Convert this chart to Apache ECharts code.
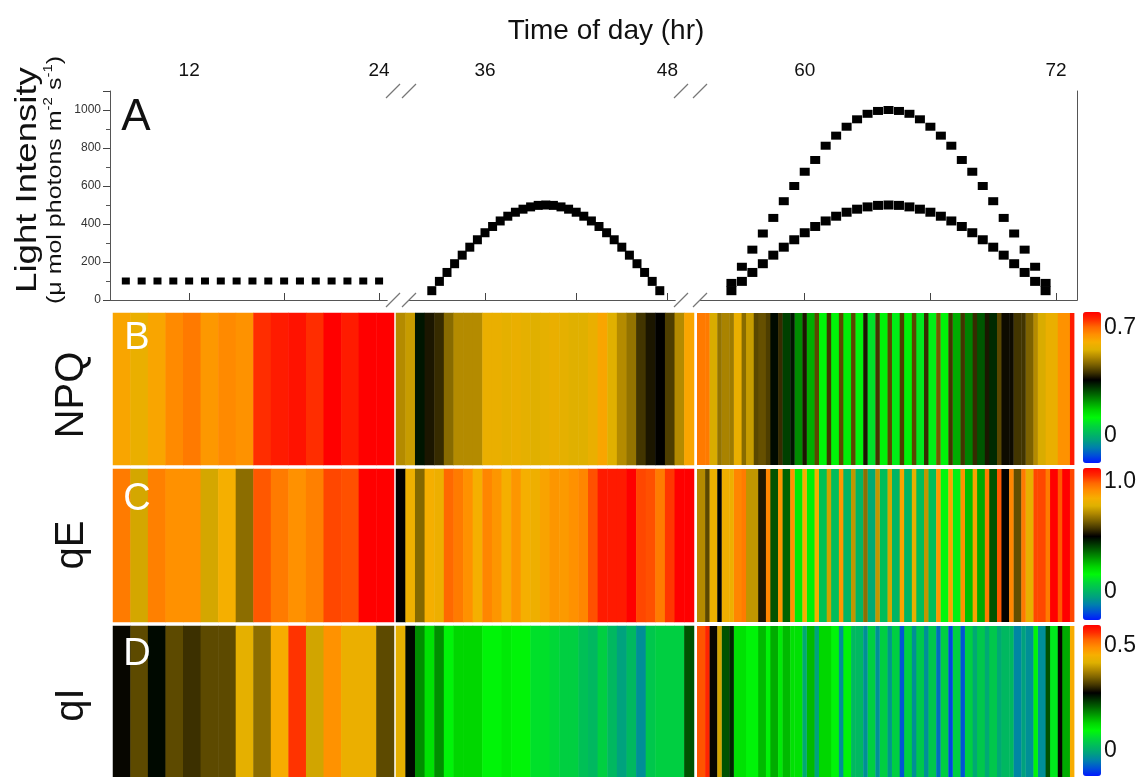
<!DOCTYPE html>
<html>
<head>
<meta charset="utf-8">
<script src="https://cdn.jsdelivr.net/npm/echarts@6/dist/echarts.min.js"></script>
<style>
  html, body { margin: 0; padding: 0; background: #fff; }
  #chart { width: 1148px; height: 777px; }
</style>
</head>
<body>
<div id="chart"></div>
<script>
// ---- Panel A: light intensity (µmol photons m-2 s-1) against time of day (hr) ----
const hoursDay1 = [8, 9, 10, 11, 12, 13, 14, 15, 16, 17, 18, 19, 20, 21, 22, 23, 24];
const lightDay1 = [100, 100, 100, 100, 100, 100, 100, 100, 100, 100, 100, 100, 100, 100, 100, 100, 100];

const hoursDay2 = [32.5, 33, 33.5, 34, 34.5, 35, 35.5, 36, 36.5, 37, 37.5, 38, 38.5, 39, 39.5, 40,
                   40.5, 41, 41.5, 42, 42.5, 43, 43.5, 44, 44.5, 45, 45.5, 46, 46.5, 47, 47.5];
const lightDay2 = [49, 98, 145, 191, 236, 278, 317, 354, 387, 416, 441, 462, 478, 490, 498, 500,
                   498, 490, 478, 462, 441, 416, 387, 354, 317, 278, 236, 191, 145, 98, 49];

const hoursDay3 = [56.5, 57, 57.5, 58, 58.5, 59, 59.5, 60, 60.5, 61, 61.5, 62, 62.5, 63, 63.5, 64,
                   64.5, 65, 65.5, 66, 66.5, 67, 67.5, 68, 68.5, 69, 69.5, 70, 70.5, 71, 71.5];
const lightDay3Low = [49, 98, 145, 191, 236, 278, 317, 354, 387, 416, 441, 462, 478, 490, 498, 500,
                      498, 490, 478, 462, 441, 416, 387, 354, 317, 278, 236, 191, 145, 98, 49];
const lightDay3High = [90, 175, 265, 350, 432, 520, 600, 675, 737, 812, 865, 912, 951, 980, 995, 1000,
                       995, 980, 951, 912, 865, 812, 737, 675, 600, 520, 432, 350, 265, 175, 90];

// Top axis ticks and labels for each day segment
const hourTicks = [[12, 18, 24], [36, 42, 48], [60, 66, 72]];
const hourLabels = [[12, 24], [36, 48], [60, 72]];
const hourRanges = [[7, 24.5], [31, 48.5], [55, 73]];

// ---- Panels B-D: fluorescence parameters, one value per measurement ----
// NPQ
const npqDay1 = [0.62, 0.58, 0.62, 0.66, 0.68, 0.64, 0.66, 0.65, 0.75, 0.77, 0.78, 0.75, 0.80, 0.77, 0.80, 0.80];
const npqDay2 = [0.51, 0.53, 0.34, 0.38, 0.40, 0.47, 0.51, 0.51, 0.51, 0.58, 0.58, 0.57, 0.58, 0.57, 0.56, 0.57,
                 0.58, 0.57, 0.56, 0.56, 0.58, 0.62, 0.56, 0.51, 0.48, 0.41, 0.38, 0.36, 0.42, 0.51, 0.62];
const npqDay3Low = [0.68, 0.55, 0.50, 0.58, 0.53, 0.44, 0.35, 0.30, 0.23, 0.20, 0.12, 0.12, 0.13, 0.11, 0.08, 0.12,
                    0.10, 0.12, 0.09, 0.10, 0.12, 0.20, 0.24, 0.28, 0.32, 0.37, 0.41, 0.46, 0.55, 0.58, 0.65];
const npqDay3High = [0.68, 0.48, 0.49, 0.47, 0.43, 0.42, 0.40, 0.34, 0.38, 0.43, 0.41, 0.43, 0.43, 0.38, 0.41, 0.43,
                     0.42, 0.43, 0.40, 0.45, 0.41, 0.41, 0.40, 0.38, 0.43, 0.37, 0.41, 0.51, 0.58, 0.65, 0.77];
// qE
const qeDay1 = [0.95, 0.76, 0.94, 0.91, 0.91, 0.76, 0.84, 0.66, 1.00, 0.95, 0.91, 0.94, 1.02, 1.01, 1.12, 1.12];
const qeDay2 = [0.50, 0.82, 0.65, 0.84, 0.82, 0.98, 0.95, 0.91, 0.84, 0.93, 0.90, 0.84, 0.90, 0.84, 0.82, 0.87,
                0.90, 0.89, 0.91, 0.93, 1.01, 1.08, 1.08, 1.08, 1.12, 1.02, 1.01, 0.95, 1.04, 1.12, 1.12];
const qeDay3Low = [0.71, 0.82, 0.82, 0.93, 0.73, 0.53, 0.39, 0.37, 0.18, 0.17, 0.03, 0.02, 0.00, 0.00, -0.03, 0.02,
                   0.00, 0.00, 0.02, 0.02, 0.15, 0.14, 0.25, 0.28, 0.39, 0.50, 0.61, 0.80, 1.02, 1.12, 1.12];
const qeDay3High = [0.60, 0.50, 0.82, 0.95, 0.73, 0.93, 0.90, 0.91, 0.84, 0.84, 0.75, 0.90, 0.73, 0.66, 0.73, 0.76,
                    0.87, 0.80, 0.73, 0.90, 0.87, 0.91, 0.87, 0.95, 1.00, 0.93, 0.95, 1.02, 0.95, 1.00, 1.02];
// qI
const qiDay1 = [0.28, 0.33, 0.27, 0.33, 0.31, 0.33, 0.33, 0.43, 0.36, 0.46, 0.56, 0.41, 0.49, 0.44, 0.44, 0.33];
const qiDay2 = [0.43, 0.27, 0.18, 0.12, 0.18, 0.10, 0.13, 0.13, 0.13, 0.10, 0.10, 0.11, 0.10, 0.10, 0.07, 0.07,
                0.06, 0.05, 0.05, 0.03, 0.02, 0.05, 0.02, -0.01, 0.02, -0.03, 0.04, 0.05, 0.05, 0.05, 0.22];
const qiDay3Low = [0.54, 0.28, 0.22, 0.12, 0.10, 0.15, 0.16, 0.15, 0.12, 0.15, 0.13, 0.10, 0.10, 0.02, 0.05, 0.05,
                   0.05, 0.05, 0.04, 0.04, 0.05, 0.05, 0.05, 0.04, 0.04, 0.02, -0.04, -0.03, -0.03, 0.08, 0.16];
const qiDay3High = [0.57, 0.41, 0.25, 0.12, 0.10, 0.10, 0.11, 0.12, 0.00, -0.01, 0.13, -0.03, 0.02, -0.03, -0.03, -0.02,
                    -0.08, -0.03, -0.03, -0.06, -0.09, -0.08, 0.00, 0.00, 0.00, 0.02, -0.01, 0.10, 0.22, 0.28, 0.46];

// Colour scale ranges and labelled values of each colour bar
const npqScale = [-0.18, 0.8], npqLabels = [0, 0.7];
const qeScale = [-0.26, 1.12], qeLabels = [0, 1.0];
const qiScale = [-0.12, 0.6], qiLabels = [0, 0.5];

// blue - teal - green - black - gold - orange - red
const SPECTRUM = ['#0018ff', '#004fd8', '#007eae', '#00a080', '#00bb5c', '#00d737', '#00f809',
                  '#00d500', '#00a000', '#006a00', '#003500', '#000000', '#403300', '#7a6000',
                  '#b08800', '#deb000', '#f6af00', '#ff9000', '#ff6800', '#ff2c00', '#ff0000'];

const FONT = "'Liberation Sans', Arial, sans-serif";

// ---- layout (pixels) ----
const aSegs = [{ left: 110, width: 277 }, { left: 409, width: 266 }, { left: 700, width: 377 }];
const aTop = 91, aHeight = 209;
const hmSegs = [{ left: 113, width: 281 }, { left: 396, width: 298 }, { left: 697, width: 377 }];
const hmRows = [{ top: 313, height: 152 }, { top: 469, height: 153 }, { top: 626, height: 152 }];
const barLeft = 1083, barWidth = 18;
const bars = [{ top: 312, height: 151 }, { top: 468, height: 152 }, { top: 625, height: 151 }];

const grid = [], xAxis = [], yAxis = [], series = [], visualMap = [], graphic = [];

// Panel A segments
const lightSets = [
  [{ h: hoursDay1, v: lightDay1, size: [8, 7] }],
  [{ h: hoursDay2, v: lightDay2, size: [9, 9] }],
  [{ h: hoursDay3, v: lightDay3Low, size: [10, 9] }, { h: hoursDay3, v: lightDay3High, size: [10, 8] }]
];
aSegs.forEach((s, i) => {
  grid.push({ left: s.left, top: aTop, width: s.width, height: aHeight });
  const g = grid.length - 1;
  const topAxis = xAxis.length;
  xAxis.push({
    gridIndex: g, type: 'value', position: 'top', min: hourRanges[i][0], max: hourRanges[i][1],
    axisLine: { show: true, lineStyle: { color: '#555', width: 1 } },
    axisTick: { show: true, customValues: hourTicks[i], length: 7, lineStyle: { color: '#444' } },
    axisLabel: { customValues: hourLabels[i], margin: 11, fontFamily: FONT, fontSize: 19, color: '#111' },
    splitLine: { show: false }
  });
  xAxis.push({
    gridIndex: g, type: 'value', position: 'bottom', min: hourRanges[i][0], max: hourRanges[i][1],
    axisLine: { show: true, lineStyle: { color: '#555', width: 1 } },
    axisTick: { show: false }, axisLabel: { show: false }, splitLine: { show: false }
  });
  const yIdx = yAxis.length;
  yAxis.push({
    gridIndex: g, type: 'value', min: 0, max: 1100, interval: 200,
    position: i === 2 ? 'right' : 'left', show: i !== 1,
    axisLine: { show: true, lineStyle: { color: '#555', width: 1 } },
    axisTick: { show: i === 0, length: 7, lineStyle: { color: '#444' } },
    minorTick: { show: i === 0, splitNumber: 2, length: 4, lineStyle: { color: '#555' } },
    axisLabel: {
      show: i === 0, showMaxLabel: false, margin: 9, fontSize: 12, color: '#333', fontFamily: FONT,
      formatter: v => String(v)
    },
    splitLine: { show: false }
  });
  lightSets[i].forEach(set => {
    series.push({
      type: 'scatter', xAxisIndex: topAxis, yAxisIndex: yIdx, symbol: 'rect', symbolSize: set.size,
      itemStyle: { color: '#000', opacity: 1 }, silent: true,
      data: set.h.map((h, k) => [h, set.v[k]])
    });
  });
});

// Narrow + wide stripes for the alternating measurements of the third day
function stripeRenderer(part) {
  return function (params, api) {
    const k = api.value(0);
    const centre = api.coord([k, 0]);
    const band = api.size([1, 0])[0];
    const cs = params.coordSys;
    const share = 2 / 3;
    const x0 = centre[0] - band / 2;
    const x = part === 'wide' ? x0 : x0 + band * share;
    const w = part === 'wide' ? band * share : band * (1 - share);
    return {
      type: 'rect',
      shape: { x: x, y: cs.y, width: w + 0.4, height: cs.height },
      style: { fill: api.visual('color') }
    };
  };
}

const rows = [
  { scale: npqScale, labels: npqLabels, day1: npqDay1, day2: npqDay2, wide: npqDay3Low, thin: npqDay3High },
  { scale: qeScale, labels: qeLabels, day1: qeDay1, day2: qeDay2, wide: qeDay3Low, thin: qeDay3High },
  { scale: qiScale, labels: qiLabels, day1: qiDay1, day2: qiDay2, wide: qiDay3Low, thin: qiDay3High }
];

rows.forEach((r, ri) => {
  const owned = [];
  [r.day1, r.day2].forEach((vals, si) => {
    grid.push({ left: hmSegs[si].left, width: hmSegs[si].width, top: hmRows[ri].top, height: hmRows[ri].height });
    const g = grid.length - 1;
    xAxis.push({ gridIndex: g, type: 'category', data: vals.map((_, k) => String(k)), show: false });
    yAxis.push({ gridIndex: g, type: 'category', data: [''], show: false });
    series.push({
      type: 'heatmap', xAxisIndex: xAxis.length - 1, yAxisIndex: yAxis.length - 1, silent: true,
      itemStyle: { borderWidth: 0 }, emphasis: { disabled: true },
      data: vals.map((v, k) => [k, 0, v])
    });
    owned.push(series.length - 1);
  });
  grid.push({ left: hmSegs[2].left, width: hmSegs[2].width, top: hmRows[ri].top, height: hmRows[ri].height });
  const g3 = grid.length - 1;
  xAxis.push({ gridIndex: g3, type: 'category', data: r.wide.map((_, k) => String(k)), show: false });
  yAxis.push({ gridIndex: g3, type: 'category', data: [''], show: false });
  ['wide', 'thin'].forEach(part => {
    series.push({
      type: 'custom', xAxisIndex: xAxis.length - 1, yAxisIndex: yAxis.length - 1, silent: true,
      renderItem: stripeRenderer(part), encode: { x: 0, y: 1 },
      data: r[part].map((v, k) => [k, 0, v])
    });
    owned.push(series.length - 1);
  });

  visualMap.push({
    type: 'continuous', min: r.scale[0], max: r.scale[1], dimension: 2, seriesIndex: owned,
    inRange: { color: SPECTRUM }, calculable: false, hoverLink: false, text: null,
    left: barLeft, top: bars[ri].top, itemWidth: barWidth, itemHeight: bars[ri].height, padding: 0
  });

  // value labels beside the colour bar
  grid.push({ left: barLeft, width: barWidth, top: bars[ri].top, height: bars[ri].height });
  const gb = grid.length - 1;
  xAxis.push({ gridIndex: gb, type: 'value', min: 0, max: 1, show: false });
  yAxis.push({
    gridIndex: gb, type: 'value', position: 'right', min: r.scale[0], max: r.scale[1],
    axisLine: { show: false }, axisTick: { show: false }, splitLine: { show: false },
    axisLabel: {
      customValues: r.labels, margin: 3, fontSize: 23, color: '#111', fontFamily: FONT,
      formatter: v => (v === 0 ? '0' : v.toFixed(1))
    }
  });
});

// ---- text ----
const txt = (x, y, text, size, fill, extra) => Object.assign({
  type: 'text', x: x, y: y, z: 100, silent: true,
  style: { text: text, fontSize: size, fontFamily: FONT, fill: fill, align: 'center', verticalAlign: 'middle' }
}, extra || {});

graphic.push(txt(606, 31, 'Time of day (hr)', 28, '#111'));
graphic.push(txt(136, 118, 'A', 44, '#111'));
graphic.push(txt(28, 180, 'Light Intensity', 30, '#111', { rotation: Math.PI / 2, scaleX: 1.22 }));
graphic.push({
  type: 'text', x: 55, y: 180, z: 100, rotation: Math.PI / 2, scaleX: 1.25, silent: true,
  style: {
    text: '(μ mol photons m{sup|-2} s{sup|-1})', fontSize: 20, fontFamily: FONT, fill: '#111',
    align: 'center', verticalAlign: 'middle',
    rich: { sup: { fontSize: 12, fontFamily: FONT, fill: '#111', verticalAlign: 'top', lineHeight: 24 } }
  }
});
[['B', 339, 'NPQ', 395], ['C', 500, 'qE', 545], ['D', 655, 'qI', 705]].forEach(([letter, ly, name, ny]) => {
  graphic.push(txt(137, ly, letter, 38, '#fff'));
  graphic.push(txt(72, ny, name, 40, '#111', { rotation: Math.PI / 2 }));
});

// axis break marks ("//") on the top and bottom frame lines
for (let b = 0; b < 2; b++) {
  const xs = [aSegs[b].left + aSegs[b].width + 6, aSegs[b + 1].left];
  [aTop, aTop + aHeight].forEach(y => {
    xs.forEach(x => {
      graphic.push({
        type: 'line', silent: true, z: 100,
        shape: { x1: x - 7, y1: y + 7, x2: x + 7, y2: y - 7 },
        style: { stroke: '#777', lineWidth: 1.2 }
      });
    });
  });
}

const chart = echarts.init(document.getElementById('chart'), null, { renderer: 'canvas' });
chart.setOption({
  animation: false,
  backgroundColor: '#fff',
  textStyle: { fontFamily: FONT },
  grid: grid, xAxis: xAxis, yAxis: yAxis, visualMap: visualMap, series: series, graphic: graphic
});
</script>
</body>
</html>
